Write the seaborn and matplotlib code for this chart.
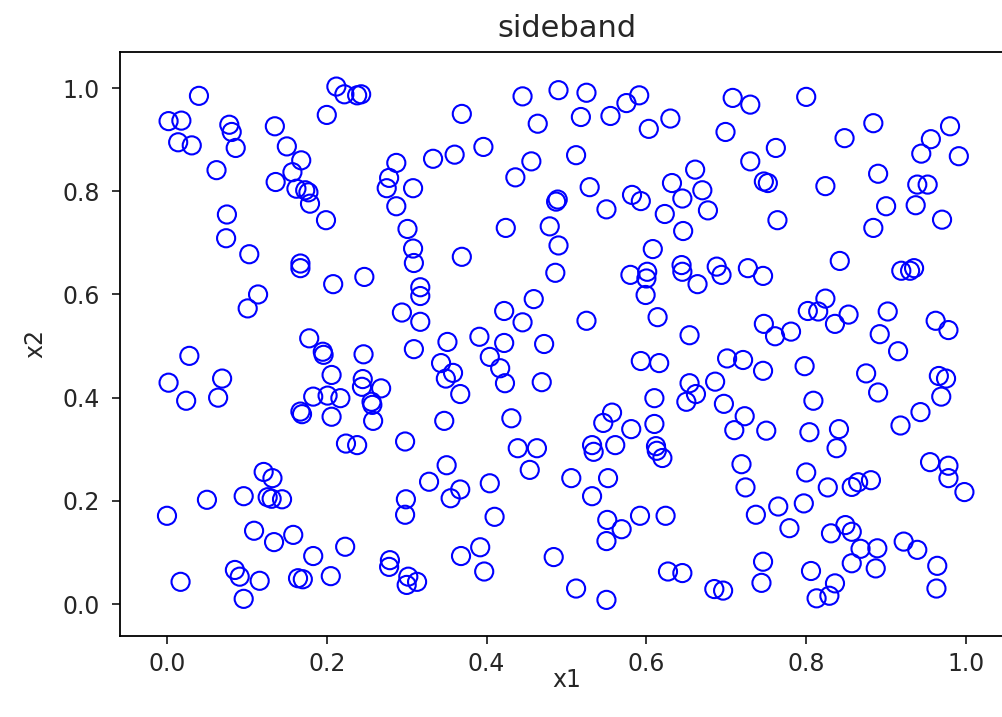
import matplotlib
matplotlib.use("Agg")
import matplotlib.pyplot as plt
import seaborn as sns
import pandas as pd

# Sample coordinates of the two-feature dataset
x1 = [0.040, 0.212, 0.222, 0.238, 0.243, 0.200, 0.002, 0.018, 0.078, 0.081,
      0.086, 0.135, 0.014, 0.031, 0.150, 0.168, 0.062, 0.157, 0.136, 0.162,
      0.173, 0.177, 0.179, 0.199, 0.075, 0.074, 0.103, 0.369, 0.445, 0.490,
      0.464, 0.396, 0.360, 0.333, 0.287, 0.456, 0.278, 0.275, 0.308, 0.436,
      0.487, 0.489, 0.287, 0.301, 0.424, 0.479, 0.308, 0.490, 0.512, 0.525,
      0.518, 0.555, 0.575, 0.591, 0.603, 0.630, 0.708, 0.730, 0.699, 0.762,
      0.730, 0.747, 0.752, 0.529, 0.550, 0.582, 0.593, 0.632, 0.661, 0.670,
      0.645, 0.677, 0.623, 0.646, 0.764, 0.608, 0.800, 0.884, 0.848, 0.980,
      0.956, 0.944, 0.991, 0.890, 0.824, 0.939, 0.952, 0.900, 0.937, 0.970,
      0.884, 0.842, 0.167, 0.167, 0.208, 0.114, 0.101, 0.178, 0.195, 0.196,
      0.206, 0.028, 0.069, 0.002, 0.064, 0.024, 0.183, 0.201, 0.217, 0.167,
      0.169, 0.206, 0.309, 0.369, 0.486, 0.247, 0.317, 0.317, 0.294, 0.317,
      0.422, 0.459, 0.445, 0.391, 0.422, 0.472, 0.351, 0.309, 0.246, 0.404,
      0.417, 0.423, 0.343, 0.358, 0.349, 0.367, 0.469, 0.245, 0.244, 0.268,
      0.256, 0.257, 0.258, 0.347, 0.431, 0.298, 0.224, 0.238, 0.439, 0.463,
      0.580, 0.601, 0.600, 0.599, 0.644, 0.645, 0.664, 0.688, 0.694, 0.727,
      0.746, 0.525, 0.614, 0.654, 0.747, 0.761, 0.593, 0.616, 0.701, 0.721,
      0.746, 0.686, 0.654, 0.662, 0.650, 0.610, 0.697, 0.557, 0.546, 0.581,
      0.610, 0.723, 0.710, 0.750, 0.532, 0.534, 0.561, 0.612, 0.613, 0.620,
      0.919, 0.930, 0.935, 0.824, 0.802, 0.815, 0.853, 0.836, 0.781, 0.902,
      0.962, 0.978, 0.892, 0.915, 0.798, 0.875, 0.890, 0.966, 0.975, 0.969,
      0.809, 0.943, 0.918, 0.804, 0.841, 0.838, 0.121, 0.132, 0.050, 0.096,
      0.126, 0.131, 0.144, 0.000, 0.109, 0.158, 0.134, 0.183, 0.085, 0.091,
      0.017, 0.116, 0.164, 0.170, 0.205, 0.096, 0.350, 0.454, 0.328, 0.367,
      0.355, 0.404, 0.299, 0.298, 0.410, 0.223, 0.279, 0.278, 0.302, 0.313,
      0.300, 0.368, 0.392, 0.397, 0.484, 0.719, 0.724, 0.506, 0.552, 0.532,
      0.765, 0.737, 0.551, 0.569, 0.550, 0.592, 0.624, 0.627, 0.645, 0.746,
      0.744, 0.685, 0.696, 0.512, 0.550, 0.955, 0.978, 0.978, 0.998, 0.800,
      0.827, 0.857, 0.865, 0.881, 0.797, 0.779, 0.831, 0.849, 0.857, 0.868,
      0.889, 0.922, 0.939, 0.857, 0.887, 0.964, 0.963, 0.806, 0.836, 0.829,
      0.813]

x2 = [0.985, 1.003, 0.988, 0.986, 0.988, 0.948, 0.936, 0.937, 0.929, 0.915,
      0.884, 0.926, 0.895, 0.889, 0.887, 0.860, 0.841, 0.837, 0.818, 0.805,
      0.802, 0.798, 0.776, 0.744, 0.755, 0.709, 0.678, 0.950, 0.984, 0.996,
      0.931, 0.886, 0.871, 0.863, 0.855, 0.858, 0.826, 0.806, 0.806, 0.827,
      0.780, 0.784, 0.771, 0.727, 0.729, 0.732, 0.689, 0.695, 0.870, 0.991,
      0.944, 0.946, 0.971, 0.986, 0.921, 0.941, 0.981, 0.968, 0.915, 0.884,
      0.858, 0.819, 0.816, 0.808, 0.765, 0.793, 0.781, 0.816, 0.842, 0.802,
      0.786, 0.763, 0.756, 0.723, 0.744, 0.688, 0.983, 0.932, 0.903, 0.926,
      0.901, 0.873, 0.868, 0.834, 0.810, 0.813, 0.813, 0.771, 0.773, 0.745,
      0.729, 0.665, 0.660, 0.651, 0.620, 0.600, 0.573, 0.515, 0.489, 0.483,
      0.444, 0.481, 0.437, 0.429, 0.400, 0.394, 0.402, 0.404, 0.399, 0.373,
      0.368, 0.363, 0.661, 0.673, 0.642, 0.634, 0.614, 0.597, 0.565, 0.547,
      0.568, 0.591, 0.546, 0.518, 0.506, 0.504, 0.508, 0.494, 0.484, 0.479,
      0.457, 0.428, 0.467, 0.448, 0.437, 0.407, 0.430, 0.436, 0.421, 0.418,
      0.392, 0.386, 0.355, 0.355, 0.360, 0.315, 0.311, 0.308, 0.302, 0.302,
      0.638, 0.644, 0.631, 0.599, 0.657, 0.644, 0.620, 0.654, 0.638, 0.651,
      0.636, 0.549, 0.556, 0.521, 0.543, 0.519, 0.471, 0.467, 0.476, 0.473,
      0.452, 0.431, 0.428, 0.407, 0.392, 0.399, 0.388, 0.371, 0.351, 0.339,
      0.349, 0.364, 0.337, 0.336, 0.308, 0.295, 0.308, 0.306, 0.297, 0.283,
      0.646, 0.646, 0.651, 0.592, 0.568, 0.567, 0.561, 0.543, 0.528, 0.567,
      0.549, 0.531, 0.523, 0.490, 0.461, 0.447, 0.410, 0.442, 0.437, 0.402,
      0.394, 0.372, 0.346, 0.333, 0.339, 0.302, 0.256, 0.244, 0.202, 0.209,
      0.207, 0.204, 0.203, 0.171, 0.142, 0.134, 0.120, 0.093, 0.066, 0.053,
      0.043, 0.045, 0.050, 0.048, 0.054, 0.010, 0.269, 0.260, 0.237, 0.222,
      0.205, 0.234, 0.203, 0.173, 0.169, 0.111, 0.085, 0.072, 0.053, 0.043,
      0.037, 0.093, 0.110, 0.063, 0.091, 0.271, 0.226, 0.244, 0.244, 0.209,
      0.189, 0.173, 0.163, 0.145, 0.122, 0.171, 0.171, 0.063, 0.060, 0.082,
      0.041, 0.029, 0.026, 0.030, 0.008, 0.275, 0.268, 0.244, 0.217, 0.255,
      0.226, 0.227, 0.236, 0.240, 0.195, 0.147, 0.137, 0.153, 0.140, 0.107,
      0.108, 0.121, 0.105, 0.079, 0.069, 0.074, 0.030, 0.064, 0.040, 0.016,
      0.011]

df = pd.DataFrame({"x1": x1, "x2": x2})

plt.rcParams.update({
    "font.family": "DejaVu Sans",
    "font.size": 17,
    "text.color": "#262626",
    "axes.labelcolor": "#262626",
    "xtick.color": "#262626",
    "ytick.color": "#262626",
    "axes.linewidth": 1.3,
    "xtick.major.width": 1.3,
    "ytick.major.width": 1.3,
    "xtick.major.size": 5.5,
    "ytick.major.size": 5.5,
    "xtick.major.pad": 6,
    "ytick.major.pad": 9,
    "xtick.labelsize": 17,
    "ytick.labelsize": 17,
})

fig = plt.figure(figsize=(10.03, 7.17), dpi=100)
ax = fig.add_axes([120 / 1003, 81 / 717, 893 / 1003, 584 / 717])

sns.scatterplot(data=df, x="x1", y="x2", ax=ax, marker="o", s=170,
                facecolor="none", edgecolor="blue", linewidth=1.5)
coll = ax.collections[0]
coll.set_facecolor("none")
coll.set_edgecolor("blue")

ax.set_xlim(-0.0588, 1.0588)
ax.set_ylim(-0.062, 1.070)
ax.set_xticks([0.0, 0.2, 0.4, 0.6, 0.8, 1.0])
ax.set_yticks([0.0, 0.2, 0.4, 0.6, 0.8, 1.0])
ax.set_xlabel("x1", fontsize=17, labelpad=-6)
ax.set_ylabel("x2", fontsize=17, labelpad=11)
ax.set_title("sideband", fontsize=22, pad=11)

fig.savefig("out.png", dpi=100)
